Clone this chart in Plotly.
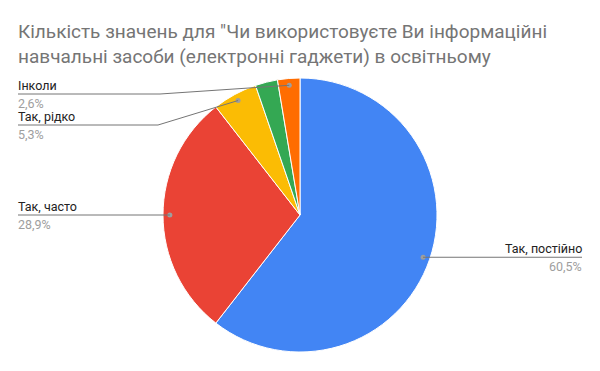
import math
import plotly.graph_objects as go

categories = ["Так, постійно", "Так, часто", "Так, рідко", "Ніколи", "Інколи"]
counts = [23, 11, 2, 1, 1]
colors = ["#4285F4", "#EA4335", "#FBBC04", "#34A853", "#FF6D01"]
shown = [True, True, True, False, True]
title_lines = ['Кількість значень для "Чи використовуєте Ви інформаційні',
               'навчальні засоби (електронні гаджети) в освітньому']

W, H = 600, 371
CX, CY, R = 300, 215, 137

def px(x):
    return x / W

def py(y):
    return 1 - y / H

fig = go.Figure(go.Pie(
    labels=categories, values=counts, sort=False, direction="clockwise",
    rotation=0, textinfo="none", hoverinfo="label+percent",
    marker=dict(colors=colors, line=dict(color="white", width=1)),
    domain=dict(x=[px(CX - R), px(CX + R)], y=[py(CY + R), py(CY - R)]),
    showlegend=False,
))

shapes = []
annotations = []
total = sum(counts)
cum = 0
# label layout: (side, elbow_x, line_y)
label_layout = {
    "Так, постійно": ("right", None, None),
    "Так, часто": ("left", None, None),
    "Так, рідко": ("left", 158, 125),
    "Інколи": ("left", 160, 94),
}
for cat, v, show in zip(categories, counts, shown):
    mid = (cum + v / 2) / total * 2 * math.pi
    cum += v
    if not show:
        continue
    dx = CX + 0.95 * R * math.sin(mid)
    dy = CY - 0.95 * R * math.cos(mid)
    side, ex, ly = label_layout[cat]
    if ly is None:
        ly = dy
        ex = dx
    pct = f"{v / total * 100:.1f}%".replace(".", ",")
    shapes.append(dict(type="circle", xref="paper", yref="paper",
                       x0=px(dx - 2.5), x1=px(dx + 2.5), y0=py(dy + 2.5), y1=py(dy - 2.5),
                       fillcolor="#9e9e9e", line=dict(width=0)))
    if side == "left":
        end = 18
        shapes.append(dict(type="line", xref="paper", yref="paper",
                           x0=px(dx), y0=py(dy), x1=px(ex), y1=py(ly),
                           line=dict(color="#757575", width=1)))
        shapes.append(dict(type="line", xref="paper", yref="paper",
                           x0=px(ex), y0=py(ly), x1=px(end), y1=py(ly),
                           line=dict(color="#757575", width=1)))
        xa, anchor = px(end - 1), "left"
    else:
        end = 582
        shapes.append(dict(type="line", xref="paper", yref="paper",
                           x0=px(dx), y0=py(ly), x1=px(end), y1=py(ly),
                           line=dict(color="#757575", width=1)))
        xa, anchor = px(end + 1), "right"
    annotations.append(dict(text=cat, x=xa, y=py(ly), xref="paper", yref="paper",
                            xanchor=anchor, yanchor="bottom", showarrow=False, borderpad=0,
                            font=dict(family="Roboto", size=12.5, color="#222222")))
    annotations.append(dict(text=pct, x=xa, y=py(ly + 1), xref="paper", yref="paper",
                            xanchor=anchor, yanchor="top", showarrow=False, borderpad=0,
                            font=dict(family="Roboto", size=12.5, color="#9e9e9e")))

for i, line in enumerate(title_lines):
    annotations.append(dict(text=line, x=px(17), y=py(44 + 25 * i), xref="paper", yref="paper",
                            xanchor="left", yanchor="bottom", showarrow=False, borderpad=0,
                            font=dict(family="Roboto", size=19, color="#757575")))

fig.update_layout(width=W, height=H, margin=dict(l=0, r=0, t=0, b=0),
                  paper_bgcolor="white", plot_bgcolor="white",
                  shapes=shapes, annotations=annotations)
fig.write_html("out.html")
